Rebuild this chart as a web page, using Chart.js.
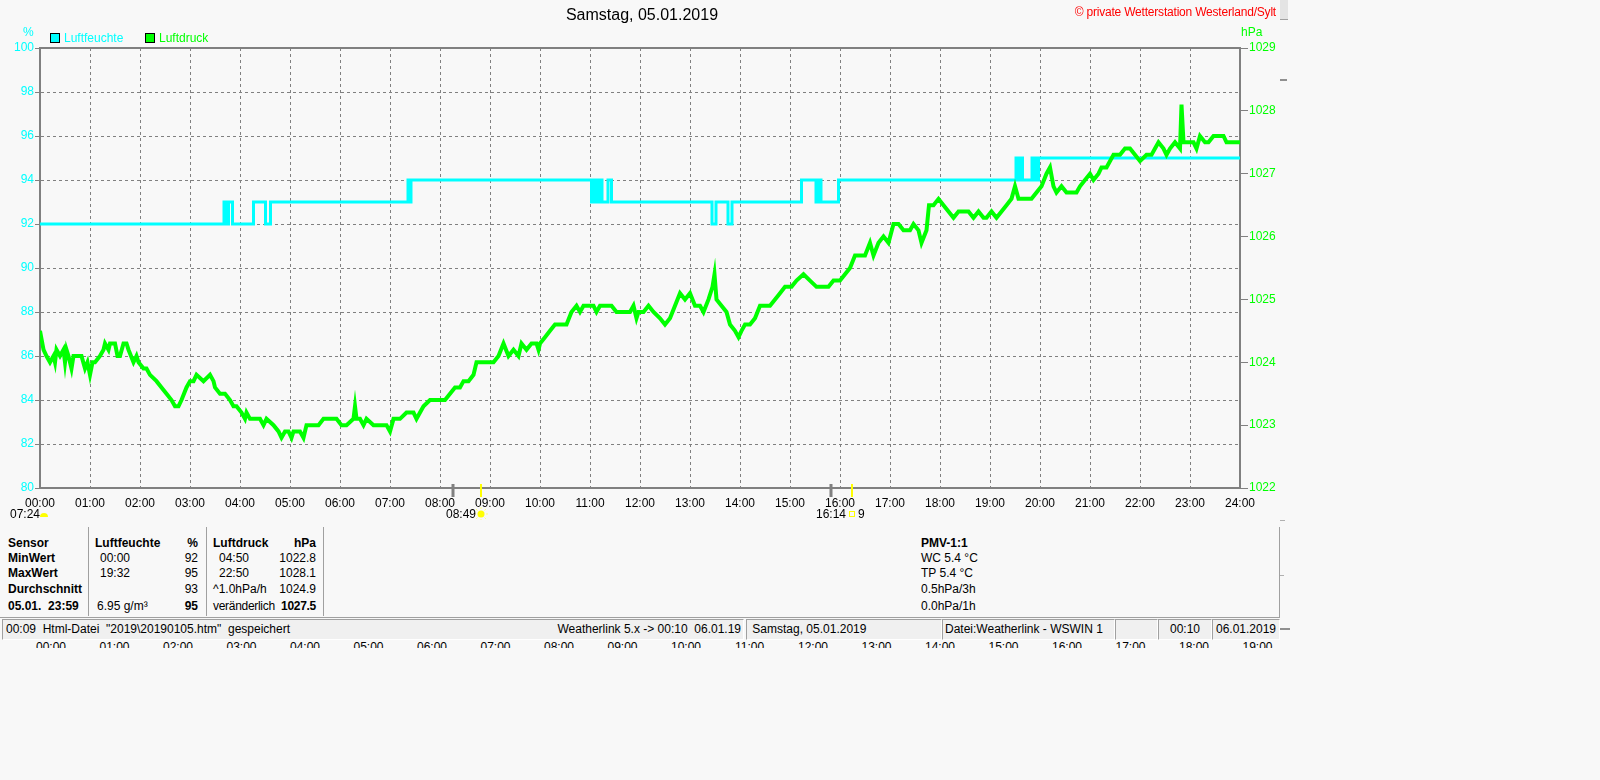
<!DOCTYPE html>
<html lang="de">
<head>
<meta charset="utf-8">
<title>Samstag, 05.01.2019</title>
<script src="https://cdn.jsdelivr.net/npm/chart.js@4/dist/chart.umd.min.js"></script>
<style>
  body { margin:0; width:1600px; height:780px; background:#f8f8f8; position:relative; overflow:hidden;
         font-family:'Liberation Sans', Arial, sans-serif; }
  #chartBox { position:absolute; left:0; top:0; width:1290px; height:520px; }
  .t { position:absolute; font-size:12px; line-height:12px; white-space:pre; color:#000; }
  .b { font-weight:bold; }
  .r { text-align:right; }
  .box { position:absolute; width:8px; height:8px; border:1px solid #000; }
  .sep { position:absolute; width:1px; background:#a0a0a0; }
  .sb { position:absolute; top:619px; height:19px; border:1px solid; border-color:#a0a0a0 #fff #fff #a0a0a0;
        background:#f0f0f0; font-size:12px; line-height:19px; white-space:pre; overflow:hidden; }
  #clip { position:absolute; left:0; top:642px; width:1290px; height:6px; overflow:hidden; }
</style>
</head>
<body>

<div id="chartBox"><canvas id="chart"></canvas></div>

<!-- Kopfzeile -->
<div class="t" style="left:0;width:1284px;top:7px;font-size:16px;line-height:16px;text-align:center;">Samstag, 05.01.2019</div>
<div class="t r" style="left:1000px;width:276px;top:6px;color:#ff0000;letter-spacing:-0.2px;">© private Wetterstation Westerland/Sylt</div>

<!-- Legende -->
<div class="box" style="left:50px;top:33px;background:#00ffff;"></div>
<div class="t" style="left:64px;top:32px;color:#00ffff;">Luftfeuchte</div>
<div class="box" style="left:145px;top:33px;background:#00ff00;"></div>
<div class="t" style="left:159px;top:32px;color:#00ff00;">Luftdruck</div>
<div class="t" style="left:23px;top:26px;color:#00ffff;">%</div>
<div class="t" style="left:1241px;top:26px;color:#00ff00;">hPa</div>

<!-- Sonne / Mond -->
<div class="t" style="left:10px;top:508px;">07:24</div>
<div class="t" style="left:446px;top:508px;">08:49</div>
<div class="t" style="left:816px;top:508px;">16:14</div>
<div class="t" style="left:858px;top:508px;">9</div>

<!-- Tabelle -->
<div class="sep" style="left:88px;top:527px;height:89px;"></div>
<div class="sep" style="left:206px;top:527px;height:89px;"></div>
<div class="sep" style="left:323px;top:527px;height:89px;"></div>
<div class="sep" style="left:1279px;top:527px;height:91px;"></div>
<div style="position:absolute;left:0;top:617px;width:1280px;height:1px;background:#a0a0a0;"></div>

<div class="t b" style="left:8px;top:537px;">Sensor</div>
<div class="t b" style="left:8px;top:552px;">MinWert</div>
<div class="t b" style="left:8px;top:567px;">MaxWert</div>
<div class="t b" style="left:8px;top:583px;">Durchschnitt</div>
<div class="t b" style="left:8px;top:600px;">05.01.  23:59</div>

<div class="t b" style="left:95px;top:537px;">Luftfeuchte</div>
<div class="t" style="left:100px;top:552px;">00:00</div>
<div class="t" style="left:100px;top:567px;">19:32</div>
<div class="t" style="left:97px;top:600px;">6.95 g/m³</div>
<div class="t b r" style="left:158px;width:40px;top:537px;">%</div>
<div class="t r" style="left:158px;width:40px;top:552px;">92</div>
<div class="t r" style="left:158px;width:40px;top:567px;">95</div>
<div class="t r" style="left:158px;width:40px;top:583px;">93</div>
<div class="t b r" style="left:158px;width:40px;top:600px;">95</div>

<div class="t b" style="left:213px;top:537px;">Luftdruck</div>
<div class="t" style="left:219px;top:552px;">04:50</div>
<div class="t" style="left:219px;top:567px;">22:50</div>
<div class="t" style="left:213px;top:583px;">^1.0hPa/h</div>
<div class="t" style="left:213px;top:600px;letter-spacing:-0.3px;">veränderlich</div>
<div class="t b r" style="left:256px;width:60px;top:537px;">hPa</div>
<div class="t r" style="left:256px;width:60px;top:552px;">1022.8</div>
<div class="t r" style="left:256px;width:60px;top:567px;">1028.1</div>
<div class="t r" style="left:256px;width:60px;top:583px;">1024.9</div>
<div class="t b r" style="left:256px;width:60px;top:600px;letter-spacing:-0.3px;">1027.5</div>

<div class="t b" style="left:921px;top:537px;">PMV-1:1</div>
<div class="t" style="left:921px;top:552px;">WC 5.4 °C</div>
<div class="t" style="left:921px;top:567px;">TP 5.4 °C</div>
<div class="t" style="left:921px;top:583px;">0.5hPa/3h</div>
<div class="t" style="left:921px;top:600px;">0.0hPa/1h</div>

<!-- Statuszeile -->
<div class="sb" style="left:2px;width:740px;"><span style="position:absolute;left:3px;">00:09  Html-Datei  "2019\20190105.htm"  gespeichert</span><span style="position:absolute;right:2px;">Weatherlink 5.x -&gt; 00:10  06.01.19</span></div>
<div class="sb" style="left:746px;width:192px;padding-left:2px;"> Samstag, 05.01.2019</div>
<div class="sb" style="left:942px;width:169px;padding-left:2px;">Datei:Weatherlink - WSWIN 1</div>
<div class="sb" style="left:1115px;width:41px;"></div>
<div class="sb" style="left:1158px;width:52px;text-align:center;">00:10</div>
<div class="sb" style="left:1212px;width:66px;text-align:center;">06.01.2019</div>

<div id="clip"></div>

<!-- Rand rechts -->
<div style="position:absolute;left:1280px;top:0;width:8px;height:19px;background:#e4e4e4;border-bottom:1px solid #a0a0a0;"></div>
<div style="position:absolute;left:1280px;top:79px;width:7px;height:2px;background:#909090;"></div>
<div style="position:absolute;left:1280px;top:520px;width:5px;height:1px;background:#b0b0b0;"></div>
<div style="position:absolute;left:1280px;top:575px;width:4px;height:1px;background:#b0b0b0;"></div>
<div style="position:absolute;left:1280px;top:628px;width:10px;height:2px;background:#909090;"></div>

<script>
// Luftfeuchte (%), Zeitpunkte der Wertwechsel in Stunden
const feuchteZeit = [0, 3.68, 3.73, 3.77, 3.85, 4.27, 4.51, 4.61, 7.36, 7.39, 7.42,
  11.03, 11.07, 11.10, 11.13, 11.17, 11.20, 11.24, 11.36, 11.43,
  13.44, 13.52, 13.76, 13.84, 15.23, 15.52, 15.56, 15.62, 15.97,
  19.52, 19.55, 19.57, 19.60, 19.62, 19.65, 19.84, 19.88, 19.90, 19.94, 19.97, 24];
const feuchteWerte = [92, 93, 92, 93, 92, 93, 92, 93, 94, 93, 94,
  93, 94, 93, 94, 93, 94, 93, 94, 93,
  92, 93, 92, 93, 94, 93, 94, 93, 94,
  95, 94, 95, 94, 95, 94, 95, 94, 95, 94, 95, 95];

// Luftdruck (hPa)
const druckZeit = [
  0.00, 0.07, 0.13, 0.20, 0.27, 0.30, 0.33, 0.40, 0.47, 0.50, 0.53, 0.57, 0.63, 0.67, 0.73, 0.83, 0.90, 0.95,
  1.00, 1.05, 1.10, 1.20, 1.27, 1.30, 1.37, 1.40, 1.50, 1.55, 1.60, 1.67, 1.73, 1.77, 1.87, 1.93, 1.97,
  2.07, 2.13, 2.20, 2.33, 2.43, 2.53, 2.63, 2.70, 2.77, 2.83, 2.93,
  3.00, 3.07, 3.13, 3.27, 3.40, 3.47, 3.50, 3.60, 3.70, 3.80, 3.87, 3.93,
  4.03, 4.10, 4.13, 4.20, 4.27, 4.40, 4.47, 4.53, 4.67, 4.77, 4.83, 4.90, 4.97,
  5.03, 5.07, 5.20, 5.27, 5.33, 5.47, 5.57, 5.67, 5.80, 5.93,
  6.03, 6.13, 6.27, 6.30, 6.33, 6.40, 6.47, 6.53, 6.67, 6.80, 6.93,
  7.00, 7.07, 7.20, 7.33, 7.47, 7.53, 7.60, 7.67, 7.80, 7.90,
  8.00, 8.10, 8.20, 8.30, 8.40, 8.47, 8.57, 8.67, 8.73, 8.83, 8.93,
  9.07, 9.17, 9.27, 9.37, 9.47, 9.57, 9.63, 9.73, 9.83, 9.93, 9.97,
  10.00, 10.10, 10.20, 10.30, 10.43, 10.53, 10.63, 10.73, 10.80, 10.87, 10.93,
  11.07, 11.13, 11.20, 11.33, 11.43, 11.53, 11.67, 11.80, 11.87, 11.93, 11.97,
  12.07, 12.17, 12.27, 12.40, 12.50, 12.60, 12.70, 12.80, 12.90,
  13.00, 13.10, 13.20, 13.27, 13.37, 13.45, 13.49, 13.53, 13.63, 13.73, 13.80, 13.90, 13.97,
  14.03, 14.10, 14.20, 14.30, 14.40, 14.50, 14.60, 14.70, 14.80, 14.90,
  15.03, 15.13, 15.27, 15.40, 15.53, 15.67, 15.77, 15.87,
  16.00, 16.10, 16.20, 16.30, 16.40, 16.50, 16.60, 16.67, 16.77, 16.87, 16.97,
  17.07, 17.17, 17.27, 17.40, 17.47, 17.57, 17.63, 17.73, 17.78, 17.87, 17.97,
  18.07, 18.17, 18.27, 18.37, 18.47, 18.57, 18.67, 18.77, 18.87, 18.93,
  19.03, 19.13, 19.23, 19.33, 19.43, 19.50, 19.57, 19.67, 19.77, 19.83, 19.93,
  20.03, 20.13, 20.20, 20.27, 20.33, 20.43, 20.53, 20.63, 20.73, 20.80, 20.90,
  21.00, 21.07, 21.17, 21.23, 21.33, 21.47, 21.60, 21.70, 21.80, 21.90,
  22.00, 22.13, 22.23, 22.30, 22.37, 22.47, 22.53, 22.60, 22.70, 22.80, 22.83, 22.87,
  23.00, 23.07, 23.13, 23.20, 23.30, 23.37, 23.47, 23.57, 23.67, 23.73, 23.80, 24.00];
const druckWerte = [
  1024.5, 1024.2, 1024.1, 1024.0, 1024.1, 1024.0, 1024.2, 1024.1, 1024.2, 1024.0, 1024.2, 1024.1, 1023.9, 1024.1, 1024.1, 1024.1, 1023.9, 1024.0,
  1023.8, 1024.0, 1024.0, 1024.1, 1024.2, 1024.3, 1024.2, 1024.3, 1024.3, 1024.1, 1024.1, 1024.3, 1024.3, 1024.2, 1024.0, 1024.1, 1024.0,
  1023.9, 1023.9, 1023.8, 1023.7, 1023.6, 1023.5, 1023.4, 1023.3, 1023.3, 1023.4, 1023.6,
  1023.7, 1023.7, 1023.8, 1023.7, 1023.8, 1023.7, 1023.6, 1023.5, 1023.5, 1023.4, 1023.3, 1023.3,
  1023.2, 1023.1, 1023.2, 1023.1, 1023.1, 1023.1, 1023.0, 1023.1, 1023.0, 1022.9, 1022.8, 1022.9, 1022.9,
  1022.8, 1022.9, 1022.9, 1022.8, 1023.0, 1023.0, 1023.0, 1023.1, 1023.1, 1023.1,
  1023.0, 1023.0, 1023.1, 1023.3, 1023.1, 1023.1, 1023.0, 1023.1, 1023.0, 1023.0, 1023.0,
  1022.9, 1023.1, 1023.1, 1023.2, 1023.2, 1023.1, 1023.2, 1023.3, 1023.4, 1023.4,
  1023.4, 1023.4, 1023.5, 1023.6, 1023.6, 1023.7, 1023.7, 1023.8, 1024.0, 1024.0, 1024.0,
  1024.0, 1024.1, 1024.3, 1024.1, 1024.2, 1024.1, 1024.3, 1024.2, 1024.3, 1024.3, 1024.2,
  1024.3, 1024.4, 1024.5, 1024.6, 1024.6, 1024.6, 1024.8, 1024.9, 1024.8, 1024.9, 1024.9,
  1024.9, 1024.8, 1024.9, 1024.9, 1024.9, 1024.8, 1024.8, 1024.8, 1024.9, 1024.7, 1024.8,
  1024.8, 1024.9, 1024.8, 1024.7, 1024.6, 1024.7, 1024.9, 1025.1, 1025.0,
  1025.1, 1024.9, 1024.9, 1024.8, 1025.0, 1025.2, 1025.4, 1025.0, 1024.9, 1024.8, 1024.6, 1024.5, 1024.4,
  1024.5, 1024.6, 1024.6, 1024.7, 1024.9, 1024.9, 1024.9, 1025.0, 1025.1, 1025.2,
  1025.2, 1025.3, 1025.4, 1025.3, 1025.2, 1025.2, 1025.2, 1025.3,
  1025.3, 1025.4, 1025.5, 1025.7, 1025.7, 1025.7, 1025.9, 1025.7, 1025.9, 1026.0, 1025.9,
  1026.2, 1026.2, 1026.1, 1026.1, 1026.2, 1026.1, 1025.9, 1026.1, 1026.5, 1026.5, 1026.6,
  1026.5, 1026.4, 1026.3, 1026.4, 1026.4, 1026.4, 1026.3, 1026.4, 1026.3, 1026.3,
  1026.4, 1026.3, 1026.4, 1026.5, 1026.6, 1026.8, 1026.6, 1026.6, 1026.6, 1026.6, 1026.7,
  1026.8, 1027.0, 1027.1, 1026.8, 1026.7, 1026.8, 1026.7, 1026.7, 1026.7, 1026.8, 1026.9,
  1027.0, 1026.9, 1027.0, 1027.1, 1027.1, 1027.3, 1027.3, 1027.4, 1027.4, 1027.3,
  1027.2, 1027.3, 1027.3, 1027.4, 1027.5, 1027.4, 1027.3, 1027.4, 1027.5, 1027.4, 1028.1, 1027.5,
  1027.5, 1027.5, 1027.4, 1027.6, 1027.5, 1027.5, 1027.6, 1027.6, 1027.6, 1027.5, 1027.5, 1027.5];

// Achsen
const stundenTicks = [0, 24];
const feuchteAchse = [80, 100];
const druckAchse = [1022, 1029];

// Dämmerung und Sonnenauf-/untergang (Stunden)
const daemmerung = [8.27, 15.82];
const sonnenaufgang = 8.82;
const sonnenuntergang = 16.23;

// Abgeschnittene Zeitleiste unter der Statuszeile
const clip = document.getElementById('clip');
for (let i = 0; i < 20; i++) {
  const d = document.createElement('div');
  d.className = 't';
  d.style.left = (51 + i * 63.5 - 20) + 'px';
  d.style.width = '40px';
  d.style.textAlign = 'center';
  d.style.top = '-1px';
  d.textContent = String(i).padStart(2, '0') + ':00';
  clip.appendChild(d);
}

const grau = '#808080';

const rahmenPlugin = {
  id: 'rahmen',
  afterDraw(chart) {
    const ctx = chart.ctx;
    const a = chart.chartArea;
    const x = chart.scales.x;
    ctx.save();
    // oberer Rahmen
    ctx.strokeStyle = grau;
    ctx.lineWidth = 2;
    ctx.beginPath();
    ctx.moveTo(a.left - 1, a.top);
    ctx.lineTo(a.right + 1, a.top);
    ctx.stroke();

    // Dämmerungsstriche
    ctx.lineWidth = 3;
    daemmerung.forEach(t => {
      const px = Math.round(x.getPixelForValue(t));
      ctx.beginPath();
      ctx.moveTo(px, a.bottom - 4);
      ctx.lineTo(px, a.bottom + 9);
      ctx.stroke();
    });
    // Sonnenstriche
    ctx.strokeStyle = '#ffff00';
    ctx.lineWidth = 2;
    [sonnenaufgang, sonnenuntergang].forEach(t => {
      const px = Math.round(x.getPixelForValue(t));
      ctx.beginPath();
      ctx.moveTo(px, a.bottom - 4);
      ctx.lineTo(px, a.bottom + 9);
      ctx.stroke();
    });

    // Symbole
    ctx.fillStyle = '#ffff00';
    ctx.beginPath();
    ctx.arc(44, 517, 4, Math.PI, 0);
    ctx.fill();

    const sx = x.getPixelForValue(sonnenaufgang);
    ctx.beginPath();
    ctx.arc(sx, 514, 3.5, 0, Math.PI * 2);
    ctx.fill();
    ctx.strokeStyle = '#ffff80';
    ctx.lineWidth = 1;
    for (let k = 0; k < 8; k++) {
      const w = k * Math.PI / 4;
      ctx.beginPath();
      ctx.moveTo(sx + Math.cos(w) * 5, 514 + Math.sin(w) * 5);
      ctx.lineTo(sx + Math.cos(w) * 7, 514 + Math.sin(w) * 7);
      ctx.stroke();
    }
    const ux = Math.round(x.getPixelForValue(sonnenuntergang));
    ctx.strokeStyle = '#ffff00';
    ctx.strokeRect(ux - 2.5, 511.5, 5, 5);
    ctx.restore();
  }
};

Chart.defaults.font.family = "'Liberation Sans', Arial, sans-serif";
Chart.defaults.font.size = 12;

new Chart(document.getElementById('chart'), {
  type: 'line',
  data: {
    datasets: [
      {
        label: 'Luftfeuchte',
        data: feuchteZeit.map((t, i) => ({ x: t, y: feuchteWerte[i] })),
        yAxisID: 'y',
        borderColor: '#00ffff',
        borderWidth: 3,
        pointRadius: 0,
        stepped: true,
        order: 2
      },
      {
        label: 'Luftdruck',
        data: druckZeit.map((t, i) => ({ x: t, y: druckWerte[i] })),
        yAxisID: 'y2',
        borderColor: '#00ff00',
        borderWidth: 4,
        pointRadius: 0,
        order: 1
      }
    ]
  },
  options: {
    responsive: true,
    maintainAspectRatio: false,
    animation: false,
    events: [],
    layout: { padding: { top: 48, left: 0, right: 0, bottom: 0 } },
    plugins: { legend: { display: false }, tooltip: { enabled: false } },
    scales: {
      x: {
        type: 'linear',
        min: stundenTicks[0],
        max: stundenTicks[1],
        ticks: {
          stepSize: 1, maxTicksLimit: 25, autoSkip: false, maxRotation: 0,
          color: '#000', padding: 8,
          callback: v => String(v).padStart(2, '0') + ':00'
        },
        grid: { color: grau, drawTicks: false },
        border: { color: grau, width: 2, dash: [3, 3] },
        afterFit: s => { s.height = 32; }
      },
      y: {
        position: 'left',
        min: feuchteAchse[0],
        max: feuchteAchse[1],
        ticks: { stepSize: 2, color: '#00ffff', padding: 1, callback: v => String(v) },
        grid: { color: grau, tickLength: 5, tickColor: grau },
        border: { color: grau, width: 2, dash: [3, 3] },
        afterFit: s => { s.width = 40; }
      },
      y2: {
        position: 'right',
        min: druckAchse[0],
        max: druckAchse[1],
        ticks: { stepSize: 1, color: '#00ff00', padding: 1, callback: v => String(v) },
        grid: { drawOnChartArea: false, tickLength: 8, tickColor: grau },
        border: { color: grau, width: 2 },
        afterFit: s => { s.width = 50; }
      }
    }
  },
  plugins: [rahmenPlugin]
});
</script>
</body>
</html>
